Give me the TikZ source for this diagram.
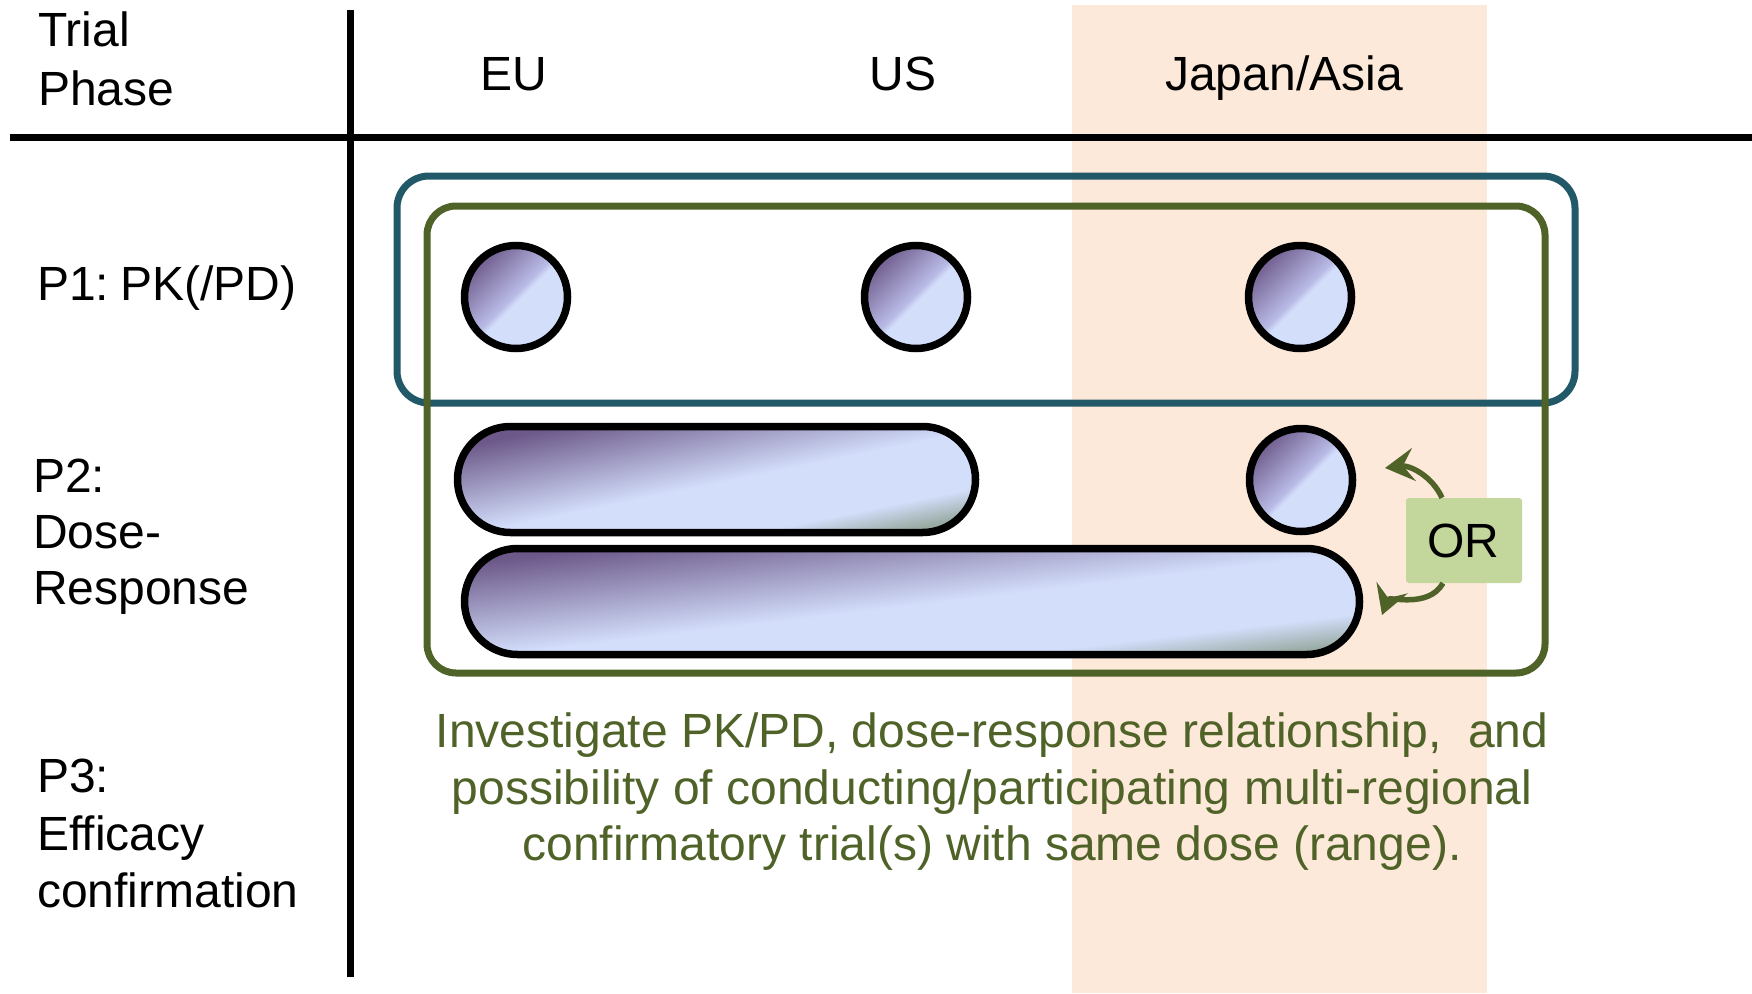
\documentclass[tikz,border=0pt]{standalone}
\usepackage{fontspec}
\setmainfont{Liberation Sans}
\usetikzlibrary{arrows.meta,shapes.misc}
\definecolor{peach}{HTML}{FDE9D9}
\definecolor{frameblue}{HTML}{215968}
\definecolor{framegreen}{HTML}{4F6228}
\definecolor{orfill}{HTML}{C3D69B}
\definecolor{dkP}{HTML}{6C5889}
\definecolor{midP}{HTML}{B9BBE6}
\definecolor{ltB}{HTML}{D3DEFB}
\definecolor{gG}{HTML}{98AAA2}
\pgfdeclarehorizontalshading{ballshade}{100bp}{color(0bp)=(dkP); color(24bp)=(dkP); color(49bp)=(midP); color(52bp)=(ltB); color(100bp)=(ltB)}
\pgfdeclarehorizontalshading{barshade}{100bp}{color(0bp)=(dkP); color(26bp)=(dkP); color(51bp)=(ltB); color(67bp)=(ltB); color(75bp)=(gG); color(100bp)=(gG)}
\tikzset{
  txt/.style={font=\fontsize{48}{57}\selectfont, inner sep=0pt},
  hdr/.style={txt, anchor=base},
  lbl/.style={txt, anchor=base west},
  note/.style={txt, anchor=base, text=framegreen},
  ball/.style={circle, draw=black, line width=7.5pt, shading=ballshade, shading angle=-45, minimum size=103pt, inner sep=0pt},
  bar/.style={rounded rectangle, draw=black, line width=7.5pt, shading=barshade, minimum height=106pt, inner sep=0pt},
  frame/.style={line width=7pt, rounded corners=32pt},
  rule/.style={line width=7pt, black},
  orarrow/.style={line width=5.5pt, framegreen, -{Stealth[length=29pt,width=33pt,inset=11pt]}}
}
\begin{document}
\begin{tikzpicture}[x=1pt,y=-1pt]
\useasboundingbox (0,0) rectangle (1752,993);
% peach column
\fill[peach] (1072,5) rectangle (1487,993);
% table rules
\draw[rule] (10,137) -- (1752,137);
\draw[rule] (350,10) -- (350,977);
% headers
\node[lbl] (trial) at (38,46) {Trial};
\node[lbl] (phase) at (38,105) {Phase};
\node[hdr] (eu) at (514,90) {EU};
\node[hdr] (us) at (903,90) {US};
\node[hdr] (jp) at (1284,90) {Japan/Asia};
% row labels
\node[lbl] (p1) at (37,300) {P1:\kern-2pt\ PK(/PD)};
\node[lbl] (p2a) at (33,492) {P2:};
\node[lbl] (p2b) at (33,548) {Dose-};
\node[lbl] (p2c) at (33,604) {Response};
\node[lbl] (p3a) at (37,792) {P3:};
\node[lbl] (p3b) at (37,850) {Efficacy};
\node[lbl] (p3c) at (37,907) {confirmation};
% frames
\draw[frame, frameblue] (397,176) rectangle (1575,403);
\draw[frame, framegreen, rounded corners=29pt] (427,206) rectangle (1545,673);
% P1 balls
\node[ball] (b1) at (516,297) {};
\node[ball] (b2) at (916,297) {};
\node[ball] (b3) at (1300,297) {};
% P2
\node[bar, minimum width=518pt, shading angle=-78.4] (bar1) at (716.5,479.5) {};
\node[ball] (b4) at (1301,480) {};
\node[bar, minimum width=895pt, shading angle=-83.2] (bar2) at (912,601.5) {};
% OR box
\node[fill=orfill, rounded corners=3pt, minimum width=116pt, minimum height=85pt, inner sep=0pt] (or) at (1464,540.5) {};
\node[hdr] (ortxt) at (1463,557) {OR};
\coordinate (t1) at (1385,468);
\coordinate (t2) at (1382,615);
\draw[orarrow] ([xshift=-22pt]or.north) .. controls (1432,476) and (1410,465) .. (t1);
\draw[orarrow] ([xshift=-21pt]or.south) .. controls (1428,609) and (1389,596) .. (t2);
% note
\node[note] (n1) at (992,747) {Investigate PK/PD, dose-response relationship,\ \ and};
\node[note] (n2) at (992,804) {possibility of conducting/participating multi-regional};
\node[note] (n3) at (992,860) {confirmatory trial(s) with same dose (range).};
\end{tikzpicture}
\end{document}
